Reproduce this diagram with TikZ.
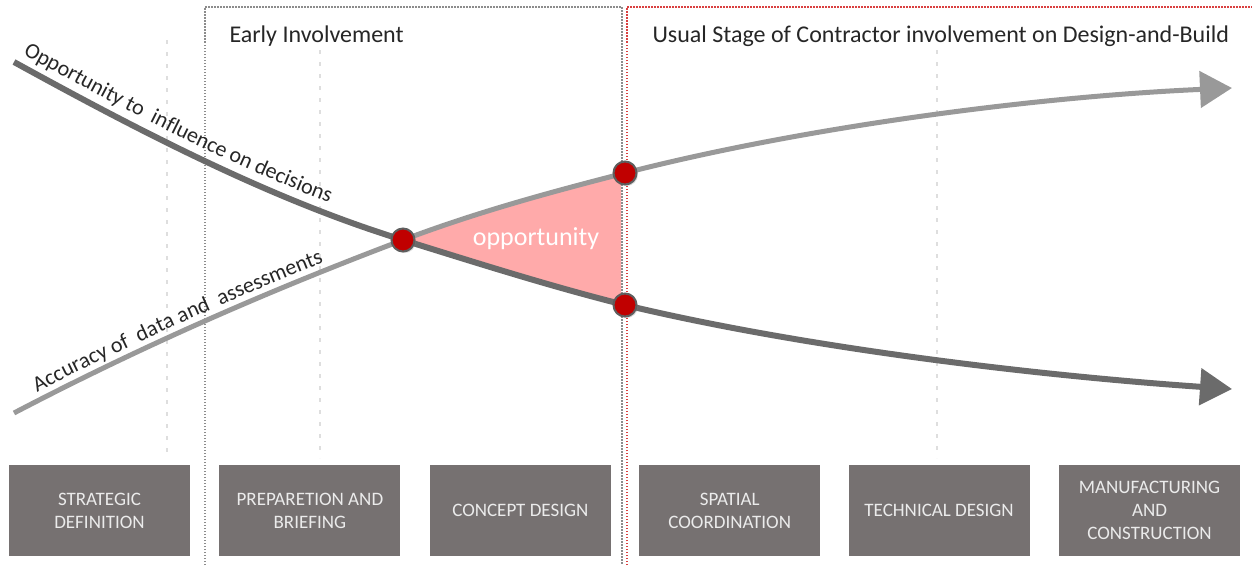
\documentclass[tikz,border=0pt]{standalone}
\usepackage{fontspec}
\setmainfont{Carlito}
\usetikzlibrary{positioning,arrows.meta,decorations.text,shadows}

\definecolor{boxgray}{HTML}{767171}
\definecolor{boxtext}{HTML}{EBEBEB}
\definecolor{curvedark}{HTML}{6B6B6B}
\definecolor{curvelight}{HTML}{999999}
\definecolor{dotred}{HTML}{C00000}
\definecolor{dotrim}{HTML}{5E5E5E}
\definecolor{gappink}{HTML}{FFAAAA}
\definecolor{framegray}{HTML}{8C8C8C}
\definecolor{framered}{HTML}{D94040}
\definecolor{titletext}{HTML}{262626}

\begin{document}
\begin{tikzpicture}[x=1pt, y=1pt,
  stage/.style={fill=boxgray, text=boxtext, minimum width=181pt, minimum height=91pt,
    inner sep=0pt, align=center, font=\fontsize{19}{23}\selectfont},
  heading/.style={anchor=base west, text=titletext, font=\fontsize{24}{28}\selectfont},
  spot/.style={circle, fill=dotred, draw=dotrim, line width=2pt, minimum size=23pt,
    inner sep=0pt, drop shadow={opacity=0.3, shadow xshift=1.5pt, shadow yshift=-1.5pt}},
  guide/.style={draw=black!13, line width=1.5pt, dash pattern=on 4pt off 8pt}]
\useasboundingbox (0,0) rectangle (1252,-565);

\coordinate (aStart) at (14,-62);
\coordinate (bStart) at (14,-413);
\coordinate (cross) at (403,-240);
\coordinate (aDot) at (625,-305);
\coordinate (bDot) at (625,-173);
\coordinate (aEnd) at (1232,-389);
\coordinate (bEnd) at (1232,-88);

% gap between the two curves
\begin{scope}
  \clip (0,0) rectangle (621,-565);
  \fill[gappink] (cross) .. controls (477,-212) and (551,-192) .. (bDot)
    -- (aDot) .. controls (551,-286.5) and (477,-263) .. (cross) -- cycle;
\end{scope}

% faint stage dividers
\draw[guide] (167,-40) -- (167,-458);
\draw[guide] (320,-50) -- (320,-458);
\draw[guide] (937,-50) -- (937,-458);

% involvement frames
\draw[framegray, line width=1.5pt, dash pattern=on 1.5pt off 1.5pt]
  (205,-565) -- (205,-7) -- (622,-7) -- (622,-565);
\draw[framered, line width=1.5pt, dash pattern=on 1.5pt off 1.5pt]
  (627,-565) -- (627,-7) -- (1252,-7);

\node[heading] (early) at (226,-42) {Early Involvement};
\node[heading] (usual) at (649,-42) {Usual Stage of Contractor involvement on Design-and-Build};

% the two curves
\draw[curvelight, line width=5pt, -{Triangle[length=32pt, width=36pt]}]
  (bStart) .. controls (144,-345) and (273,-289) .. (cross)
  .. controls (477,-212) and (551,-192) .. (bDot)
  .. controls (800,-128) and (1030,-97) .. (bEnd);
\draw[curvedark, line width=6pt, -{Triangle[length=32pt, width=36pt]}]
  (aStart) .. controls (144,-133.5) and (273,-200) .. (cross)
  .. controls (477,-263) and (551,-286.5) .. (aDot)
  .. controls (800,-347) and (1030,-375) .. (aEnd);

\path[decorate, decoration={text along path, text color=titletext, raise=11pt,
    text align={left indent=4pt},
    text={|\fontsize{22}{26}\selectfont|Opportunity to{\ } influence on decisions}}]
  (aStart) .. controls (144,-133.5) and (273,-200) .. (cross);
\path[decorate, decoration={text along path, text color=titletext, raise=8pt,
    text align={left indent=30pt},
    text={|\fontsize{22}{26}\selectfont|Accuracy of{\ } data and{\ } assessments}}]
  (bStart) .. controls (144,-345) and (273,-289) .. (cross);

\node[text=white, font=\fontsize{26}{30}\selectfont] (gap) at (536,-239) {opportunity};

\node[spot] (crossdot) at (cross) {};
\node[spot] (bdotnode) at (bDot) {};
\node[spot] (adotnode) at (aDot) {};

% work stages
\node[stage] (strategic) at (99.5,-510.5) {STRATEGIC\\DEFINITION};
\node[stage, right=29pt of strategic] (briefing) {PREPARETION AND\\BRIEFING};
\node[stage, right=29pt of briefing] (concept) {CONCEPT DESIGN};
\node[stage, right=28pt of concept] (spatial) {SPATIAL\\COORDINATION};
\node[stage, right=28pt of spatial] (technical) {TECHNICAL DESIGN};
\node[stage, right=29pt of technical] (manufacturing) {MANUFACTURING\\AND\\CONSTRUCTION};
\end{tikzpicture}
\end{document}
